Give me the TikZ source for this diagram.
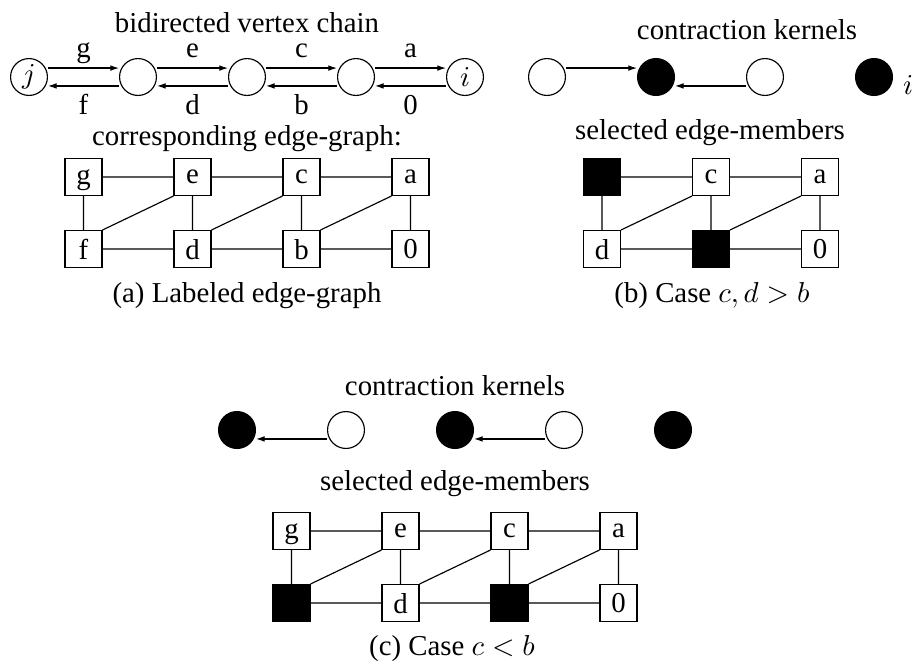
\documentclass[tikz,border=0pt]{standalone}
\usepackage{fontspec}
\setmainfont{Liberation Serif}
\usetikzlibrary{arrows.meta}
\begin{document}
\begin{tikzpicture}[x=0.347pt,y=-0.347pt,
  vtx/.style={circle,draw,minimum size=12.8pt,inner sep=0pt},
  kv/.style={vtx,fill=black},
  ebox/.style={rectangle,draw,minimum size=12.8pt,inner sep=0pt,text depth=0pt},
  kbox/.style={ebox,fill=black},
  arr/.style={-{Latex[length=3pt,width=2pt]}},
  ttl/.style={anchor=base},
  lblup/.style={midway,anchor=base,yshift=3.5pt},
  lbldn/.style={midway,anchor=base,yshift=-10pt},
]
\useasboundingbox (0,0) rectangle (917,664);

% ---------------- (a) ----------------
\node[ttl] (ta1) at (247,32) {bidirected vertex chain};
\node[vtx] (aj) at (29,77) {$j$};
\node[vtx] (a1) at (138,77) {};
\node[vtx] (a2) at (247,77) {};
\node[vtx] (a3) at (356,77) {};
\node[vtx] (ai) at (465,77) {$i$};
\draw[arr] ([yshift=3.1pt]aj.east) -- node[lblup]{g} ([yshift=3.1pt]a1.west);
\draw[arr] ([yshift=3.1pt]a1.east) -- node[lblup]{e} ([yshift=3.1pt]a2.west);
\draw[arr] ([yshift=3.1pt]a2.east) -- node[lblup]{c} ([yshift=3.1pt]a3.west);
\draw[arr] ([yshift=3.1pt]a3.east) -- node[lblup]{a} ([yshift=3.1pt]ai.west);
\draw[arr] ([yshift=-3.1pt]a1.west) -- node[lbldn]{f} ([yshift=-3.1pt]aj.east);
\draw[arr] ([yshift=-3.1pt]a2.west) -- node[lbldn]{d} ([yshift=-3.1pt]a1.east);
\draw[arr] ([yshift=-3.1pt]a3.west) -- node[lbldn]{b} ([yshift=-3.1pt]a2.east);
\draw[arr] ([yshift=-3.1pt]ai.west) -- node[lbldn]{0} ([yshift=-3.1pt]a3.east);

\node[ttl] (ta2) at (247,145) {corresponding edge-graph:};
\node[ebox] (ag) at (83.5,177) {g};
\node[ebox] (ae) at (192.5,177) {e};
\node[ebox] (ac) at (301.5,177) {c};
\node[ebox] (aa) at (410.5,177) {a};
\node[ebox] (af) at (83.5,249) {f};
\node[ebox] (ad) at (192.5,249) {d};
\node[ebox] (ab) at (301.5,249) {b};
\node[ebox] (a0) at (410.5,249) {0};
\draw (ag) -- (ae) (ae) -- (ac) (ac) -- (aa)
      (af) -- (ad) (ad) -- (ab) (ab) -- (a0)
      (ag) -- (af) (ae) -- (ad) (ac) -- (ab) (aa) -- (a0)
      (af.north east) -- (ae.south west)
      (ad.north east) -- (ac.south west)
      (ab.north east) -- (aa.south west);
\node[ttl] (ca) at (247,302) {(a) Labeled edge-graph};

% ---------------- (b) ----------------
\node[ttl] (tb1) at (747,39) {contraction kernels};
\node[vtx] (b1) at (547,77) {};
\node[kv]  (b2) at (656,77) {};
\node[vtx] (b3) at (765,77) {};
\node[kv]  (b4) at (874,77) {};
\node[anchor=base west] (bi) at ([yshift=-6.2pt]b4.east) {$i$};
\draw[arr] ([yshift=3.1pt]b1.east) -- ([yshift=3.1pt]b2.west);
\draw[arr] ([yshift=-3.1pt]b3.west) -- ([yshift=-3.1pt]b2.east);

\node[ttl] (tb2) at (710,139) {selected edge-members};
\node[kbox] (be) at (602,177) {};
\node[ebox] (bc) at (711,177) {c};
\node[ebox] (ba) at (820,177) {a};
\node[ebox] (bd) at (602,249) {d};
\node[kbox] (bb) at (711,249) {};
\node[ebox] (b0) at (820,249) {0};
\draw (be) -- (bc) (bc) -- (ba)
      (bd) -- (bb) (bb) -- (b0)
      (be) -- (bd) (bc) -- (bb) (ba) -- (b0)
      (bd.north east) -- (bc.south west)
      (bb.north east) -- (ba.south west);
\node[ttl] (cb) at (712,302) {(b) Case $c, d > b$};

% ---------------- (c) ----------------
\node[ttl] (tc1) at (455,395) {contraction kernels};
\node[kv]  (c1) at (237,430) {};
\node[vtx] (c2) at (346,430) {};
\node[kv]  (c3) at (455,430) {};
\node[vtx] (c4) at (564,430) {};
\node[kv]  (c5) at (673,430) {};
\draw[arr] ([yshift=-3.1pt]c2.west) -- ([yshift=-3.1pt]c1.east);
\draw[arr] ([yshift=-3.1pt]c4.west) -- ([yshift=-3.1pt]c3.east);

\node[ttl] (tc2) at (455,490) {selected edge-members};
\node[ebox] (cg) at (291.5,531) {g};
\node[ebox] (ce) at (400.5,531) {e};
\node[ebox] (cc) at (509.5,531) {c};
\node[ebox] (ca2) at (618.5,531) {a};
\node[kbox] (cf) at (291.5,603) {};
\node[ebox] (cd) at (400.5,603) {d};
\node[kbox] (cb2) at (509.5,603) {};
\node[ebox] (c0) at (618.5,603) {0};
\draw (cg) -- (ce) (ce) -- (cc) (cc) -- (ca2)
      (cf) -- (cd) (cd) -- (cb2) (cb2) -- (c0)
      (cg) -- (cf) (ce) -- (cd) (cc) -- (cb2) (ca2) -- (c0)
      (cf.north east) -- (ce.south west)
      (cd.north east) -- (cc.south west)
      (cb2.north east) -- (ca2.south west);
\node[ttl] (cc3) at (452,655) {(c) Case $c < b$};
\end{tikzpicture}
\end{document}
